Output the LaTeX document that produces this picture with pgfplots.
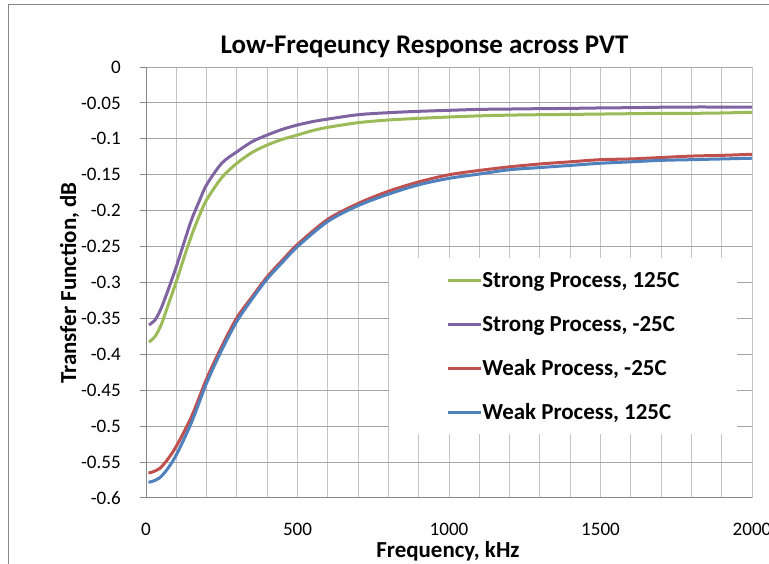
\documentclass[border=0pt]{standalone}
\usepackage{pgfplots}
\pgfplotsset{compat=1.18}
\usepackage{fontspec}
\setmainfont{Carlito}
\definecolor{cgreen}{HTML}{9BBB59}
\definecolor{cpurple}{HTML}{8064A2}
\definecolor{cred}{HTML}{C0504D}
\definecolor{cblue}{HTML}{4F81BD}
\definecolor{hgrid}{HTML}{A6A6A6}
\definecolor{vgrid}{HTML}{C4C4C4}
\definecolor{frame}{HTML}{868686}
\begin{document}
\begin{tikzpicture}
\useasboundingbox (0,0) rectangle (576.75pt,423pt);
\draw[frame, line width=0.75pt] (6pt,-1pt) -- (6pt,419.25pt) -- (578pt,419.25pt);
\begin{axis}[
  at={(109.5pt,49.5pt)}, anchor=south west,
  scale only axis, width=454.5pt, height=323.25pt,
  xmin=0, xmax=2000, ymin=-0.6, ymax=0,
  axis lines*=left, axis line style={-, draw=frame, line width=0.75pt},
  xtick={0,500,1000,1500,2000},
  xticklabels={0,500,1000,1500,2000},
  minor xtick={100,200,300,400,600,700,800,900,1100,1200,1300,1400,1600,1700,1800,1900},
  ytick={-0.6,-0.55,-0.5,-0.45,-0.4,-0.35,-0.3,-0.25,-0.2,-0.15,-0.1,-0.05,0},
  yticklabels={-0.6,-0.55,-0.5,-0.45,-0.4,-0.35,-0.3,-0.25,-0.2,-0.15,-0.1,-0.05,0},
  xmajorgrids, xminorgrids, ymajorgrids,
  major x grid style={draw=vgrid, line width=0.75pt},
  minor x grid style={draw=vgrid, line width=0.75pt},
  major y grid style={draw=hgrid, line width=0.75pt},
  tick align=outside, major tick length=4.5pt, minor tick length=0pt,
  x tick style={draw=none}, minor x tick style={draw=none},
  y tick style={draw=frame, line width=0.75pt},
  tick label style={font=\fontsize{14.3}{16}\selectfont, inner sep=0pt},
  yticklabel style={anchor=east, xshift=-14.25pt},
  xticklabel style={anchor=north, yshift=-14.5pt},
  legend style={at={(0.4005,0.557)}, anchor=north west, fill=white, draw=none,
    inner xsep=43pt, inner ysep=11pt,
    font=\bfseries\fontsize{17.2}{20}\selectfont,
    row sep=21.9pt,
    nodes={inner sep=0pt, text height=11.1pt, text depth=0pt},
    /tikz/every odd column/.style={column sep=0pt}},
  legend cell align=left,
  legend image code/.code={\draw[#1, line width=2.25pt] (0pt,0pt) -- (24.75pt,0pt);},
  every axis plot/.append style={line width=2.25pt, smooth, tension=0.5},
]
\addplot[cgreen] coordinates {
(10,-0.383) (30,-0.375) (50,-0.359) (75,-0.329) (100,-0.299) (125,-0.266)
(150,-0.235) (175,-0.208) (200,-0.185) (250,-0.154) (300,-0.134) (350,-0.119)
(400,-0.1086) (450,-0.1007) (500,-0.0947) (550,-0.0885) (600,-0.0840) (700,-0.0775)
(800,-0.0738) (900,-0.0715) (1000,-0.0696) (1100,-0.068) (1200,-0.067) (1300,-0.0664)
(1400,-0.066) (1500,-0.0655) (1600,-0.065) (1700,-0.0645) (1800,-0.0645) (1900,-0.064) (2000,-0.063)};
\addlegendentry{Strong Process, 125C}
\addplot[cpurple] coordinates {
(10,-0.359) (30,-0.352) (50,-0.336) (75,-0.308) (100,-0.278) (125,-0.245)
(150,-0.213) (175,-0.1875) (200,-0.164) (250,-0.134) (300,-0.118) (350,-0.104)
(400,-0.0947) (450,-0.0868) (500,-0.0807) (550,-0.076) (600,-0.0725) (700,-0.0664)
(800,-0.0636) (900,-0.0617) (1000,-0.0603) (1100,-0.059) (1200,-0.0585) (1300,-0.058)
(1400,-0.0576) (1500,-0.057) (1600,-0.0566) (1700,-0.056) (1800,-0.0557) (1900,-0.0557) (2000,-0.0557)};
\addlegendentry{Strong Process, -25C}
\addplot[cred] coordinates {
(8,-0.565) (20,-0.564) (45,-0.559) (70,-0.547) (100,-0.528) (150,-0.487)
(200,-0.434) (250,-0.389) (300,-0.349) (350,-0.320) (400,-0.292) (450,-0.269)
(500,-0.247) (600,-0.212) (700,-0.190) (800,-0.173) (900,-0.160) (1000,-0.150)
(1100,-0.144) (1200,-0.139) (1300,-0.135) (1400,-0.132) (1500,-0.129) (1600,-0.128)
(1700,-0.126) (1800,-0.124) (1900,-0.123) (2000,-0.1215)};
\addlegendentry{Weak Process, -25C}
\addplot[cblue] coordinates {
(8,-0.578) (20,-0.577) (45,-0.572) (70,-0.560) (100,-0.540) (150,-0.495)
(200,-0.440) (250,-0.394) (300,-0.354) (350,-0.323) (400,-0.295) (450,-0.272)
(500,-0.250) (600,-0.215) (700,-0.193) (800,-0.177) (900,-0.164) (1000,-0.155)
(1100,-0.149) (1200,-0.143) (1300,-0.140) (1400,-0.137) (1500,-0.134) (1600,-0.132)
(1700,-0.130) (1800,-0.129) (1900,-0.128) (2000,-0.127)};
\addlegendentry{Weak Process, 125C}
\end{axis}
\node[anchor=base, font=\bfseries\fontsize{20.2}{24}\selectfont, inner sep=0pt] at (318.4pt,383pt) {Low-Freqeuncy Response across PVT};
\node[anchor=base, font=\bfseries\fontsize{17.2}{20}\selectfont, inner sep=0pt] at (336pt,5pt) {Frequency, kHz};
\node[anchor=base, rotate=90, font=\bfseries\fontsize{17.2}{20}\selectfont, inner sep=0pt] at (57pt,210.75pt) {Transfer Function, dB};
\end{tikzpicture}
\end{document}
